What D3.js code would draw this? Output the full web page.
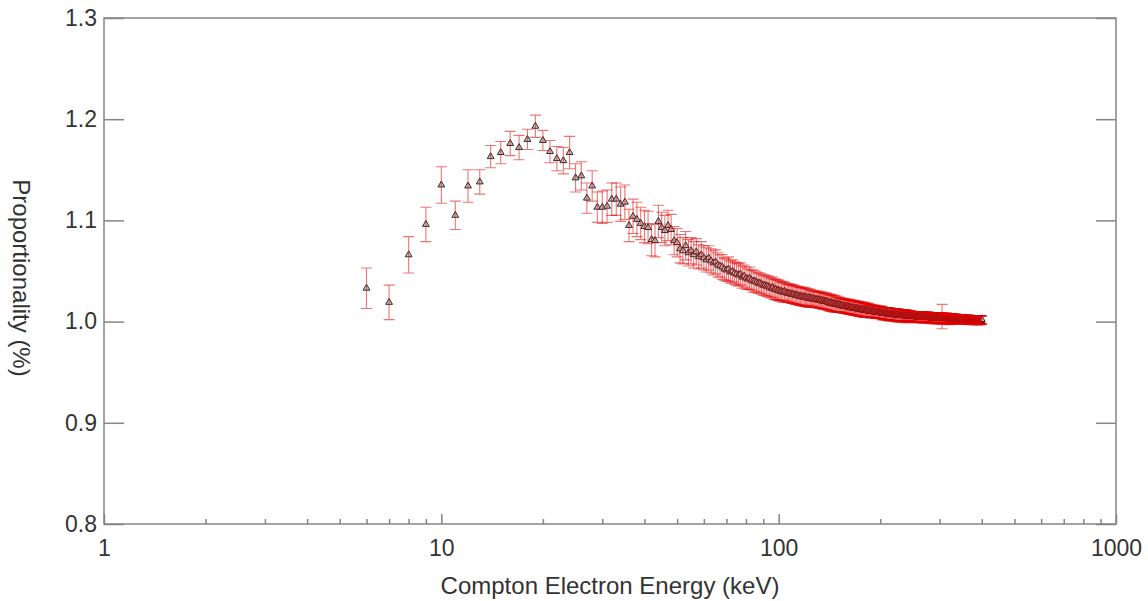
<!DOCTYPE html>
<html>
<head>
<meta charset="utf-8">
<script src="https://cdn.jsdelivr.net/npm/d3@7"></script>
<style>
  body { margin: 0; background: #fff; }
  text { font-family: "Liberation Sans", Arial, sans-serif; fill: #333; }
</style>
</head>
<body>
<div id="chart"></div>
<script>
// Compton electron energy bins (1 keV steps, first bin at 6 keV)
var energyStart = 6;

// proportionality, one per keV from 6 to 400
var proportionality = [
  1.033, 1.019, 1.066, 1.096, 1.135, 1.105, 1.134, 1.138, 1.163, 1.167,
  1.176, 1.172, 1.180, 1.193, 1.179, 1.168, 1.161, 1.159, 1.167, 1.142,
  1.144, 1.122, 1.134, 1.113, 1.113, 1.114, 1.121, 1.121, 1.116, 1.118,
  1.095, 1.104, 1.101, 1.097, 1.094, 1.093, 1.081, 1.080, 1.099, 1.093,
  1.090, 1.095, 1.091, 1.080, 1.078, 1.072, 1.070, 1.075, 1.068, 1.070,
  1.066, 1.069, 1.064, 1.066, 1.063,
  1.061, 1.063, 1.060, 1.058, 1.059, 1.056, 1.055, 1.054, 1.052, 1.051,
  1.052, 1.049, 1.050, 1.048, 1.047, 1.046, 1.047, 1.044, 1.045, 1.043,
  1.042, 1.043, 1.041, 1.040, 1.040, 1.039, 1.038, 1.038, 1.037, 1.036,
  1.036, 1.035, 1.035, 1.034, 1.033, 1.034, 1.032, 1.032, 1.031, 1.031,
  1.030, 1.030, 1.029, 1.030, 1.029, 1.028, 1.028, 1.028, 1.027, 1.027,
  1.027, 1.026, 1.026, 1.026, 1.025, 1.025, 1.025, 1.024, 1.025, 1.024,
  1.024, 1.023, 1.024, 1.023, 1.023, 1.022, 1.023, 1.022, 1.022, 1.022,
  1.021, 1.022, 1.021, 1.021, 1.020, 1.021, 1.020, 1.020, 1.020, 1.019,
  1.019, 1.018, 1.019, 1.018, 1.018, 1.017, 1.018, 1.017, 1.017, 1.017,
  1.016, 1.017, 1.016, 1.016, 1.015, 1.016, 1.015, 1.015, 1.015, 1.015,
  1.014, 1.015, 1.014, 1.014, 1.014, 1.013, 1.014, 1.013, 1.013, 1.013,
  1.013, 1.012, 1.013, 1.012, 1.012, 1.012, 1.012, 1.011, 1.012, 1.011,
  1.011, 1.011, 1.011, 1.011, 1.010, 1.011, 1.010, 1.010, 1.010, 1.010,
  1.010, 1.010, 1.009, 1.010, 1.009, 1.009, 1.009, 1.009, 1.009, 1.009,
  1.009, 1.008, 1.009, 1.008, 1.008, 1.008, 1.008, 1.008, 1.008, 1.008,
  1.007, 1.008, 1.007, 1.008, 1.007, 1.007, 1.007, 1.007, 1.007, 1.007,
  1.007, 1.007, 1.006, 1.007, 1.006, 1.007, 1.006, 1.006, 1.006, 1.006,
  1.006, 1.006, 1.006, 1.006, 1.006, 1.006, 1.006, 1.005, 1.006, 1.006,
  1.005, 1.006, 1.005, 1.006, 1.005, 1.005, 1.006, 1.005, 1.005, 1.005,
  1.005, 1.005, 1.005, 1.005, 1.005, 1.005, 1.004, 1.005, 1.005, 1.005,
  1.004, 1.005, 1.005, 1.004, 1.005, 1.004, 1.005, 1.004, 1.004, 1.005,
  1.004, 1.004, 1.005, 1.004, 1.004, 1.004, 1.004, 1.005, 1.004, 1.004,
  1.004, 1.004, 1.004, 1.003, 1.004, 1.004, 1.004, 1.004, 1.003, 1.004,
  1.004, 1.003, 1.004, 1.004, 1.003, 1.004, 1.003, 1.004, 1.003, 1.004,
  1.003, 1.003, 1.004, 1.003, 1.005, 1.003, 1.003, 1.004, 1.003, 1.003,
  1.003, 1.003, 1.003, 1.004, 1.003, 1.003, 1.003, 1.003, 1.003, 1.002,
  1.003, 1.003, 1.003, 1.002, 1.003, 1.003, 1.003, 1.002, 1.003, 1.003,
  1.003, 1.002, 1.003, 1.003, 1.002, 1.003, 1.002, 1.003, 1.003, 1.002,
  1.003, 1.002, 1.003, 1.002, 1.003, 1.002, 1.002, 1.003, 1.002, 1.002,
  1.003, 1.002, 1.002, 1.002, 1.003, 1.002, 1.002, 1.002, 1.002, 1.003,
  1.002, 1.002, 1.002, 1.002, 1.002, 1.003, 1.002, 1.002, 1.002, 1.002,
  1.002, 1.002, 1.001, 1.002, 1.002, 1.002, 1.002, 1.002, 1.002, 1.001,
  1.002, 1.002, 1.002, 1.002, 1.001, 1.002, 1.002, 1.002, 1.001, 1.002,
  1.002, 1.001, 1.002, 1.002, 1.002, 1.001, 1.002, 1.002, 1.001, 1.002
];

// error bar half-heights, same bins
var errors = [
  .020, .017, .018, .017, .018, .014, .016, .012, .011, .011,
  .012, .012, .010, .011, .010, .011, .012, .013, .016, .014,
  .014, .015, .015, .015, .016, .016, .016, .016, .017, .017,
  .016, .017, .017, .016, .016, .016, .016, .016, .016, .015,
  .015, .015, .015, .014, .014, .014, .013, .014, .013, .013,
  .013, .013, .012, .013, .012, .012, .012, .012, .012, .012,
  .012, .011, .012, .011, .011, .012, .011, .011, .011, .011,
  .011, .011, .011, .011, .011, .010, .011, .010, .011, .010,
  .010, .010, .010, .010, .010, .010, .010, .010, .010, .010,
  .010, .010, .010, .010, .010, .010, .009, .010, .009, .009,
  .009, .009, .009, .009, .009, .009, .009, .009, .009, .009,
  .009, .009, .009, .009, .009, .009, .009, .008, .009, .008,
  .008, .008, .008, .008, .008, .008, .008, .008, .008, .008,
  .008, .008, .008, .008, .008, .008, .008, .008, .008, .008,
  .008, .008, .007, .008, .007, .007, .007, .007, .007, .007,
  .007, .007, .007, .007, .007, .007, .007, .007, .007, .007,
  .007, .007, .007, .007, .007, .007, .007, .007, .007, .007,
  .007, .007, .007, .007, .007, .007, .006, .007, .007, .006,
  .006, .006, .007, .006, .006, .006, .006, .006, .006, .006,
  .006, .006, .006, .006, .006, .006, .006, .006, .006, .006,
  .006, .006, .006, .006, .006, .006, .006, .006, .006, .006,
  .006, .006, .006, .006, .006, .006, .006, .006, .006, .006,
  .006, .006, .006, .006, .006, .006, .006, .005, .006, .006,
  .006, .005, .006, .005, .006, .005, .005, .006, .005, .005,
  .005, .005, .005, .005, .005, .005, .005, .005, .005, .005,
  .005, .005, .005, .005, .005, .005, .005, .005, .005, .005,
  .005, .005, .005, .005, .005, .005, .005, .005, .005, .005,
  .005, .005, .005, .005, .005, .005, .005, .005, .005, .005,
  .005, .005, .005, .005, .005, .005, .005, .005, .005, .005,
  .005, .005, .005, .005, .005, .005, .005, .005, .005, .012,
  .005, .005, .005, .005, .005, .005, .004, .005, .005, .005,
  .005, .004, .005, .004, .005, .005, .004, .005, .004, .005,
  .004, .005, .004, .004, .005, .004, .004, .004, .005, .004,
  .004, .004, .004, .004, .004, .004, .004, .004, .004, .004,
  .004, .004, .004, .004, .004, .004, .004, .004, .004, .004,
  .004, .004, .004, .004, .004, .004, .004, .004, .004, .004,
  .004, .004, .004, .004, .004, .004, .004, .004, .004, .004,
  .004, .004, .004, .004, .004, .004, .004, .004, .004, .004,
  .004, .004, .004, .004, .004, .004, .004, .004, .004, .004,
  .004, .004, .004, .004, .004
];

// tick labels
var xMajorTicks = [1, 10, 100, 1000];
var xMinorTicks = [2,3,4,5,6,7,8,9, 20,30,40,50,60,70,80,90, 200,300,400,500,600,700,800,900];
var yTicks = [0.8, 0.9, 1.0, 1.1, 1.2, 1.3];

var data = proportionality.map(function(v, i) {
	return {energy: energyStart + i, value: v, err: errors[i]};
});

// set the dimensions and margins of the graph
var margin = {top: 18, right: 32, bottom: 77, left: 104},
	width = 1148 - margin.left - margin.right,
	height = 601 - margin.top - margin.bottom;

var svg = d3.select("#chart")
	.append("svg")
		.attr("width", 1148)
		.attr("height", 601)
	.append("g")
		.attr("transform", "translate(" + margin.left + "," + margin.top + ")");

var x = d3.scaleLog()
	.domain([1, 1000])
	.range([0, width]);

var y = d3.scaleLinear()
	.domain([0.8, 1.3])
	.range([height, 0]);

var axisColor = "#858585";

// x axis: major ticks with labels, minor ticks without
var xAxis = svg.append("g")
	.attr("transform", "translate(0," + height + ")")
	.style("font-size", "23px")
	.call(d3.axisBottom(x).tickValues(xMajorTicks).tickSize(-10).tickSizeOuter(0)
		.tickPadding(16).tickFormat(d3.format("d")));
xAxis.select(".domain").remove();

var xMinor = svg.append("g")
	.attr("transform", "translate(0," + height + ")")
	.call(d3.axisBottom(x).tickValues(xMinorTicks).tickSize(-5).tickSizeOuter(0).tickFormat(""));
xMinor.select(".domain").remove();

// y axis left with labels, right without
var yAxis = svg.append("g")
	.style("font-size", "23px")
	.call(d3.axisLeft(y).tickValues(yTicks).tickSize(-20).tickSizeOuter(0)
		.tickPadding(7).tickFormat(d3.format(".1f")));
yAxis.select(".domain").remove();

var yRight = svg.append("g")
	.attr("transform", "translate(" + width + ",0)")
	.call(d3.axisRight(y).tickValues(yTicks).tickSize(-20).tickSizeOuter(0).tickFormat(""));
yRight.select(".domain").remove();

svg.selectAll(".tick line").style("stroke", axisColor).style("stroke-width", 1.5);
svg.selectAll(".tick text").style("fill", "#333");

// frame
svg.append("rect")
	.attr("x", 0)
	.attr("y", 0)
	.attr("width", width)
	.attr("height", height)
	.style("fill", "none")
	.style("stroke", axisColor)
	.style("stroke-width", 1.5);

var barColor = "#e00000";
var capHalf = 5.5;
var tri = d3.symbol().type(d3.symbolTriangle).size(20);

// markers first, the error bars go on top (dense region ends up red)
svg.selectAll(".marker")
	.data(data)
	.enter()
	.append("path")
		.attr("class", "marker")
		.attr("d", tri)
		.attr("transform", function(d) { return "translate(" + x(d.energy) + "," + y(d.value) + ")"; })
		.style("fill", "#cfc6c6")
		.style("stroke", "#2a2a2a")
		.style("stroke-width", 1);

svg.selectAll(".errbar")
	.data(data)
	.enter()
	.append("path")
		.attr("class", "errbar")
		.attr("d", function(d) {
			var cx = x(d.energy), y0 = y(d.value - d.err), y1 = y(d.value + d.err);
			return "M" + cx + "," + y0 + "V" + y1 +
				"M" + (cx - capHalf) + "," + y1 + "H" + (cx + capHalf) +
				"M" + (cx - capHalf) + "," + y0 + "H" + (cx + capHalf);
		})
		.style("fill", "none")
		.style("stroke", barColor)
		.style("stroke-opacity", 0.55)
		.style("stroke-width", 1.1);

// axis titles
svg.append("text")
	.attr("x", width / 2)
	.attr("y", 576)
	.attr("text-anchor", "middle")
	.style("font-size", "24px")
	.text("Compton Electron Energy (keV)");

svg.append("text")
	.attr("transform", "translate(" + (13 - margin.left) + "," + (278 - margin.top) + ") rotate(90)")
	.attr("text-anchor", "middle")
	.style("font-size", "24px")
	.text("Proportionality (%)");
</script>
</body>
</html>
